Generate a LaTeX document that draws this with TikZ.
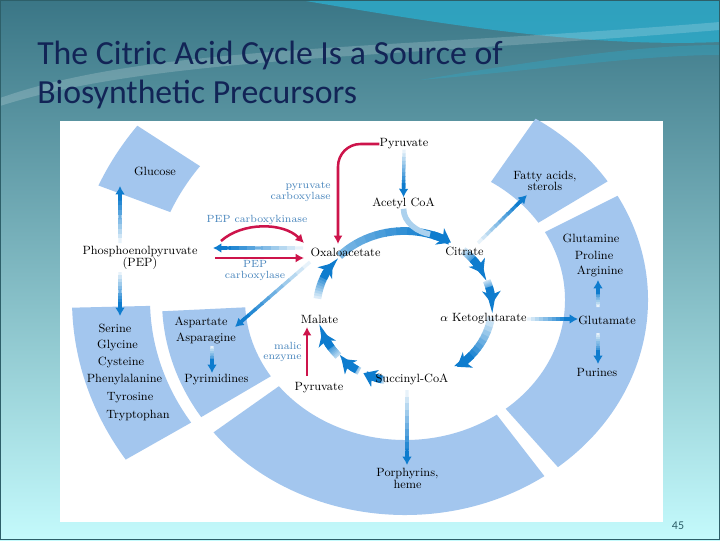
\documentclass[tikz,border=0pt]{standalone}
\usepackage{fontspec}
\newfontfamily\titlefont{Carlito}
\usetikzlibrary{arrows.meta,calc}

\definecolor{slidetop}{RGB}{58,118,134}
\definecolor{slidemid}{RGB}{140,188,190}
\definecolor{slidebot}{RGB}{196,250,252}
\definecolor{swoosh}{RGB}{44,172,204}
\definecolor{slideedge}{RGB}{45,95,105}
\definecolor{titleblue}{RGB}{18,36,86}
\definecolor{bandblue}{RGB}{163,198,238}
\definecolor{arrowblue}{RGB}{14,124,206}
\definecolor{pathred}{RGB}{205,20,75}
\definecolor{enzblue}{RGB}{70,132,188}

\tikzset{
  titletext/.style={font=\titlefont\fontsize{24}{28}\selectfont, text=titleblue, inner sep=0pt},
  lbl/.style={font=\fontsize{8.5}{8.4}\selectfont, inner sep=0pt, align=center},
  enz/.style={font=\fontsize{7.4}{7.4}\selectfont, text=enzblue, inner sep=0pt},
  band/.style={fill=bandblue},
  redarr/.style={draw=pathred, line width=1.8pt, -{Latex[length=6pt,width=6.5pt]}},
  cycleline/.style={line width=5.5pt},
}

% straight blue arrow, light at its start
\newcommand\fadearrow[2]{%
  \coordinate (fa-end) at ($(#2)!7pt!(#1)$);
  \foreach \k in {0,...,9}{
    \pgfmathsetmacro\fpa{\k/10}
    \pgfmathsetmacro\fpb{(\k+1)/10+0.02}
    \pgfmathtruncatemacro\fmix{10+90*\k/9}
    \draw[line width=2.4pt, arrowblue!\fmix!white] ($(#1)!\fpa!(fa-end)$) -- ($(#1)!\fpb!(fa-end)$);
  }
  \draw[line width=2.4pt, arrowblue, -{Latex[length=6pt,width=7pt]}] ($(#2)!10pt!(#1)$) -- (#2);
}

% one piece of the cycle, from angle #1 to its head at #2
\newcommand\cycleseg[3]{%
  \pgfmathsetmacro\cend{#2-9}
  \foreach \k in {0,...,9}{
    \pgfmathsetmacro\ca{#1+(\cend-#1)*\k/10}
    \pgfmathsetmacro\cb{#1+(\cend-#1)*(\k+1)/10+0.4}
    \pgfmathtruncatemacro\fmix{#3+(100-#3)*\k/9}
    \draw[cycleline, arrowblue!\fmix!white] ($(cyc)+(\ca:87.5 and 75.5)$) arc[start angle=\ca, end angle=\cb, x radius=87.5, y radius=75.5];
  }
  \pgfmathsetmacro\chead{#2-13}
  \draw[cycleline, arrowblue, -{Stealth[length=9pt,width=13pt,inset=2.5pt]}] ($(cyc)+(\chead:87.5 and 75.5)$) arc[start angle=\chead, end angle=#2, x radius=87.5, y radius=75.5];
}

% piece of the outer ring
\newcommand\ringpiece[6]{%
  \fill[band] ($(ring)+(#1:#3 and #4)$) arc[start angle=#1, end angle=#2, x radius=#3, y radius=#4]
    -- ($(ring)+(#2:#5 and #6)$) arc[start angle=#2, end angle=#1, x radius=#5, y radius=#6] -- cycle;
}

\begin{document}
\begin{tikzpicture}[x=0.025cm, y=-0.025cm]
\useasboundingbox (0,0) rectangle (720,540);
% slide
\shade[top color=slidetop, middle color=slidemid, bottom color=slidebot] (0,0) rectangle (720,540);
\fill[swoosh, opacity=.8] (300,0) .. controls (430,22) and (580,48) .. (720,42) -- (720,0) -- cycle;
\fill[white, opacity=.18] (0,98) .. controls (150,45) and (380,50) .. (720,22) -- (720,30) .. controls (380,58) and (150,58) .. (0,106) -- cycle;
\fill[swoosh, opacity=.35] (420,80) .. controls (540,60) and (640,45) .. (720,45) -- (720,55) .. controls (640,55) and (540,70) .. (420,80) -- cycle;
\draw[slideedge, line width=0.7pt] (0.4,0.4) rectangle (719.6,539.6);
\node[titletext, anchor=base west] (title1) at (37,64) {The Citric Acid Cycle Is a Source of};
\node[titletext, anchor=base west] (title2) at (37,103) {Biosynthetic Precursors};
\node[font=\titlefont\fontsize{8.5}{9}\selectfont, text=slideedge, inner sep=0pt] (pageno) at (678,526) {45};
\fill[white] (60,121) rectangle (663,522);

% ring of products
\coordinate (ring) at (405,300);
\ringpiece{-57.5}{-33.5}{160}{140}{243}{215}
\ringpiece{-29}{51}{160}{140}{243}{215}
\ringpiece{55}{142}{160}{140}{243}{215}
\ringpiece{147}{177}{160}{140}{243}{215}
\ringpiece{147}{178.5}{255}{225}{333}{293}
\ringpiece{203}{216.5}{255}{225}{333}{293}

% citric acid cycle
\coordinate (cyc) at (404.5,306.5);
\cycleseg{222}{302}{55}
\cycleseg{312}{334}{20}
\cycleseg{340}{358}{25}
\cycleseg{8}{53}{15}
\cycleseg{103}{118}{20}
\cycleseg{121}{136}{30}
\cycleseg{139}{160}{30}
\cycleseg{186}{215}{15}

% labels
\node[lbl] (glucose) at (155,171) {Glucose};
\node[lbl] (pyrtop) at (404,144) {Pyruvate};
\node[enz, align=right, anchor=east] (pcarb) at (331,192) {pyruvate\\carboxylase};
\node[enz] (pepck) at (257,220) {PEP carboxykinase};
\node[lbl] (pep) at (140,258) {Phosphoenolpyruvate\\(PEP)};
\node[lbl] (oaa) at (345.5,252) {Oxaloacetate};
\node[enz, align=center] (pepc) at (255,270.5) {PEP\\carboxylase};
\node[lbl] (acoa) at (403.5,203) {Acetyl CoA};
\node[lbl] (citrate) at (464.5,251) {Citrate};
\node[lbl] (fatty) at (545,181) {Fatty acids,\\sterols};
\node[lbl] (glutamine) at (591,238) {Glutamine};
\node[lbl] (proline) at (594,255) {Proline};
\node[lbl] (arginine) at (600,271) {Arginine};
\node[lbl] (akg) at (483.5,319) {$\alpha$ Ketoglutarate};
\node[lbl] (glutamate) at (607,320) {Glutamate};
\node[lbl] (purines) at (597,372) {Purines};
\node[lbl] (malate) at (319.5,319) {Malate};
\node[enz, align=right, anchor=east] (malic) at (302,352) {malic\\enzyme};
\node[lbl] (pyrbot) at (319,388) {Pyruvate};
\node[lbl] (succ) at (412,379) {Succinyl-CoA};
\node[lbl] (asp) at (201,322) {Aspartate};
\node[lbl] (asn) at (206,338) {Asparagine};
\node[lbl] (pyrim) at (216.5,380) {Pyrimidines};
\node[lbl] (serine) at (115,328) {Serine};
\node[lbl] (glycine) at (117.5,346) {Glycine};
\node[lbl] (cysteine) at (121,363) {Cysteine};
\node[lbl] (phe) at (124.5,380) {Phenylalanine};
\node[lbl] (tyrosine) at (130,398) {Tyrosine};
\node[lbl] (trp) at (138,416) {Tryptophan};
\node[lbl] (porph) at (407.5,478.5) {Porphyrins,\\heme};

% arrow ends
\coordinate (pep-up) at (120,243);
\coordinate (glc-tip) at (120,186);
\coordinate (pep-down) at (120,272);
\coordinate (ser-tip) at (120,316);
\coordinate (cit-out) at (478,243);
\coordinate (fat-tip) at (527,195);
\coordinate (glu-up) at (598,307);
\coordinate (arg-tip) at (598,280);
\coordinate (glu-down) at (598,333);
\coordinate (pur-tip) at (598,364);
\coordinate (suc-out) at (407,390);
\coordinate (por-tip) at (407,465);
\coordinate (oaa-out) at (310,262);
\coordinate (asp-tip) at (235,327);
\coordinate (asn-out) at (212,346);
\coordinate (pym-tip) at (212,373);
\coordinate (oaa-left) at (303,248);
\coordinate (pep-tip) at (213,248);
\coordinate (join) at ($(cyc)+(287:87.5 and 75.5)$);

% blue arrows
\draw[line width=4pt, arrowblue!35!white] (acoa.south) .. controls +(0,14) and +(-12,-2) .. (join);
\fadearrow{pep-up}{glc-tip}
\fadearrow{pep-down}{ser-tip}
\fadearrow{pyrtop.south}{acoa.north}
\fadearrow{cit-out}{fat-tip}
\fadearrow{akg.east}{glutamate.west |- akg.east}
\fadearrow{glu-up}{arg-tip}
\fadearrow{glu-down}{pur-tip}
\fadearrow{suc-out}{por-tip}
\fadearrow{oaa-out}{asp-tip}
\fadearrow{asn-out}{pym-tip}
\fadearrow{oaa-left}{pep-tip}

% red arrows
\coordinate (pc-tip) at (338,244);
\coordinate (pk-from) at (221,241);
\coordinate (pk-tip) at (304,243);
\coordinate (pc2-from) at (215,258);
\coordinate (pc2-tip) at (304,258);
\coordinate (me-from) at (307,376);
\coordinate (me-tip) at (307,327);
\draw[redarr, rounded corners=16] (pyrtop.west) -| (pc-tip);
\draw[redarr] (pk-from) .. controls (242,222) and (283,222) .. (pk-tip);
\draw[redarr] (pc2-from) -- (pc2-tip);
\draw[redarr] (me-from) -- (me-tip);
\end{tikzpicture}
\end{document}
